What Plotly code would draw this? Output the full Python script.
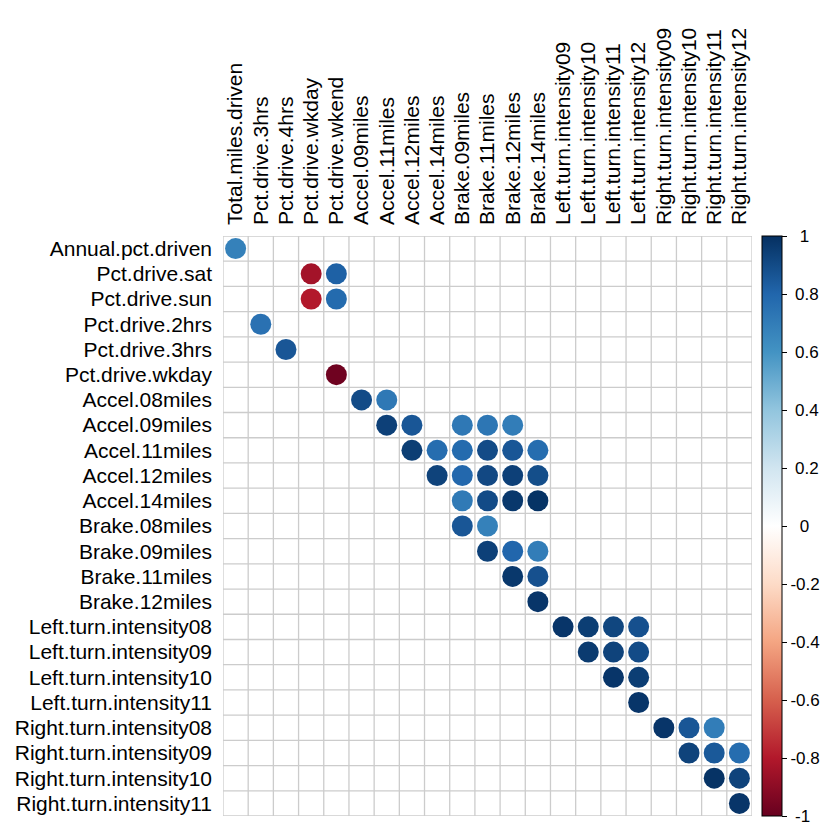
import plotly.graph_objects as go

row_labels = ["Annual.pct.driven", "Pct.drive.sat", "Pct.drive.sun", "Pct.drive.2hrs",
              "Pct.drive.3hrs", "Pct.drive.wkday", "Accel.08miles", "Accel.09miles",
              "Accel.11miles", "Accel.12miles", "Accel.14miles", "Brake.08miles",
              "Brake.09miles", "Brake.11miles", "Brake.12miles", "Left.turn.intensity08",
              "Left.turn.intensity09", "Left.turn.intensity10", "Left.turn.intensity11",
              "Right.turn.intensity08", "Right.turn.intensity09", "Right.turn.intensity10",
              "Right.turn.intensity11"]

col_labels = ["Total.miles.driven", "Pct.drive.3hrs", "Pct.drive.4hrs", "Pct.drive.wkday",
              "Pct.drive.wkend", "Accel.09miles", "Accel.11miles", "Accel.12miles",
              "Accel.14miles", "Brake.09miles", "Brake.11miles", "Brake.12miles",
              "Brake.14miles", "Left.turn.intensity09", "Left.turn.intensity10",
              "Left.turn.intensity11", "Left.turn.intensity12", "Right.turn.intensity09",
              "Right.turn.intensity10", "Right.turn.intensity11", "Right.turn.intensity12"]

# strong correlations (row variable, column variable, r)
pair_rows = ["Annual.pct.driven", "Pct.drive.sat", "Pct.drive.sat", "Pct.drive.sun", "Pct.drive.sun",
             "Pct.drive.2hrs", "Pct.drive.3hrs", "Pct.drive.wkday",
             "Accel.08miles", "Accel.08miles",
             "Accel.09miles", "Accel.09miles", "Accel.09miles", "Accel.09miles", "Accel.09miles",
             "Accel.11miles", "Accel.11miles", "Accel.11miles", "Accel.11miles", "Accel.11miles", "Accel.11miles",
             "Accel.12miles", "Accel.12miles", "Accel.12miles", "Accel.12miles", "Accel.12miles",
             "Accel.14miles", "Accel.14miles", "Accel.14miles", "Accel.14miles",
             "Brake.08miles", "Brake.08miles",
             "Brake.09miles", "Brake.09miles", "Brake.09miles",
             "Brake.11miles", "Brake.11miles",
             "Brake.12miles",
             "Left.turn.intensity08", "Left.turn.intensity08", "Left.turn.intensity08", "Left.turn.intensity08",
             "Left.turn.intensity09", "Left.turn.intensity09", "Left.turn.intensity09",
             "Left.turn.intensity10", "Left.turn.intensity10",
             "Left.turn.intensity11",
             "Right.turn.intensity08", "Right.turn.intensity08", "Right.turn.intensity08",
             "Right.turn.intensity09", "Right.turn.intensity09", "Right.turn.intensity09",
             "Right.turn.intensity10", "Right.turn.intensity10",
             "Right.turn.intensity11"]

pair_cols = ["Total.miles.driven", "Pct.drive.wkday", "Pct.drive.wkend", "Pct.drive.wkday", "Pct.drive.wkend",
             "Pct.drive.3hrs", "Pct.drive.4hrs", "Pct.drive.wkend",
             "Accel.09miles", "Accel.11miles",
             "Accel.11miles", "Accel.12miles", "Brake.09miles", "Brake.11miles", "Brake.12miles",
             "Accel.12miles", "Accel.14miles", "Brake.09miles", "Brake.11miles", "Brake.12miles", "Brake.14miles",
             "Accel.14miles", "Brake.09miles", "Brake.11miles", "Brake.12miles", "Brake.14miles",
             "Brake.09miles", "Brake.11miles", "Brake.12miles", "Brake.14miles",
             "Brake.09miles", "Brake.11miles",
             "Brake.11miles", "Brake.12miles", "Brake.14miles",
             "Brake.12miles", "Brake.14miles",
             "Brake.14miles",
             "Left.turn.intensity09", "Left.turn.intensity10", "Left.turn.intensity11", "Left.turn.intensity12",
             "Left.turn.intensity10", "Left.turn.intensity11", "Left.turn.intensity12",
             "Left.turn.intensity11", "Left.turn.intensity12",
             "Left.turn.intensity12",
             "Right.turn.intensity09", "Right.turn.intensity10", "Right.turn.intensity11",
             "Right.turn.intensity10", "Right.turn.intensity11", "Right.turn.intensity12",
             "Right.turn.intensity11", "Right.turn.intensity12",
             "Right.turn.intensity12"]

pair_r = [0.68, -0.84, 0.82, -0.80, 0.78,
          0.75, 0.86, -0.98,
          0.90, 0.72,
          0.94, 0.86, 0.72, 0.73, 0.70,
          0.95, 0.77, 0.78, 0.90, 0.86, 0.77,
          0.93, 0.79, 0.91, 0.94, 0.89,
          0.71, 0.90, 0.97, 0.99,
          0.86, 0.68,
          0.94, 0.80, 0.70,
          0.97, 0.88,
          0.98,
          0.98, 0.95, 0.92, 0.88,
          0.96, 0.93, 0.90,
          0.98, 0.95,
          0.98,
          0.98, 0.86, 0.70,
          0.93, 0.85, 0.77,
          0.99, 0.93,
          0.98]

cbar_ticks = [1, 0.8, 0.6, 0.4, 0.2, 0, -0.2, -0.4, -0.6, -0.8, -1]


def centred_label(v):
    # pad short labels so they appear centred like the R colour legend
    s = f"{v:g}"
    if len(s) == 1:
        return "\u2007" + s
    if len(s) in (2, 3):
        return "\u2008" + s
    return s


rdbu = ["#67001F", "#B2182B", "#D6604D", "#F4A582", "#FDDBC7", "#FFFFFF",
        "#D1E5F0", "#92C5DE", "#4393C3", "#2166AC", "#053061"]
colorscale = [[i / (len(rdbu) - 1), c] for i, c in enumerate(rdbu)]

nx, ny = len(col_labels), len(row_labels)
xi = [col_labels.index(c) for c in pair_cols]
yi = [row_labels.index(r) for r in pair_rows]

fig = go.Figure()
fig.add_trace(go.Scatter(
    x=xi, y=yi, mode="markers",
    marker=dict(size=21, color=pair_r, colorscale=colorscale, cmin=-1, cmax=1,
                line=dict(width=0),
                colorbar=dict(
                    x=1.019, xanchor="left", xref="paper", xpad=0, ypad=0,
                    y=0.5, yanchor="middle", len=1.0, lenmode="fraction",
                    thickness=20, outlinewidth=1, outlinecolor="black",
                    tickvals=cbar_ticks, ticktext=[centred_label(t) for t in cbar_ticks],
                    ticks="outside", ticklen=5, tickcolor="black",
                    ticklabeloverflow="allow",
                    tickfont=dict(family="Liberation Sans, Arial", size=17, color="black"),
                )),
    hovertemplate="%{text}<extra></extra>",
    text=[f"{r} / {c}: {v}" for r, c, v in zip(pair_rows, pair_cols, pair_r)],
    showlegend=False,
))

shapes = []
for k in range(nx + 1):
    shapes.append(dict(type="line", xref="x", yref="y", x0=k - 0.5, x1=k - 0.5,
                       y0=-0.5, y1=ny - 0.5, line=dict(color="#CCCCCC", width=1.3), layer="below"))
for k in range(ny + 1):
    shapes.append(dict(type="line", xref="x", yref="y", y0=k - 0.5, y1=k - 0.5,
                       x0=-0.5, x1=nx - 0.5, line=dict(color="#CCCCCC", width=1.3), layer="below"))

font = dict(family="Liberation Sans, Arial", size=21, color="black")
fig.update_layout(
    width=826, height=825,
    margin=dict(l=223, r=74, t=236, b=9, autoexpand=False),
    paper_bgcolor="white", plot_bgcolor="white",
    shapes=shapes,
    xaxis=dict(range=[-0.5, nx - 0.5], side="top", tickmode="array",
               tickvals=list(range(nx)), ticktext=col_labels, tickangle=-90,
               tickfont=font, showgrid=False, zeroline=False, showline=False,
               ticks="", ticklabelstandoff=10, fixedrange=True, automargin=False),
    yaxis=dict(range=[ny - 0.5, -0.5], tickmode="array",
               tickvals=list(range(ny)), ticktext=row_labels,
               tickfont=font, showgrid=False, zeroline=False, showline=False,
               ticks="", ticklabelstandoff=10, fixedrange=True, automargin=False),
)

fig.write_html("out.html")
